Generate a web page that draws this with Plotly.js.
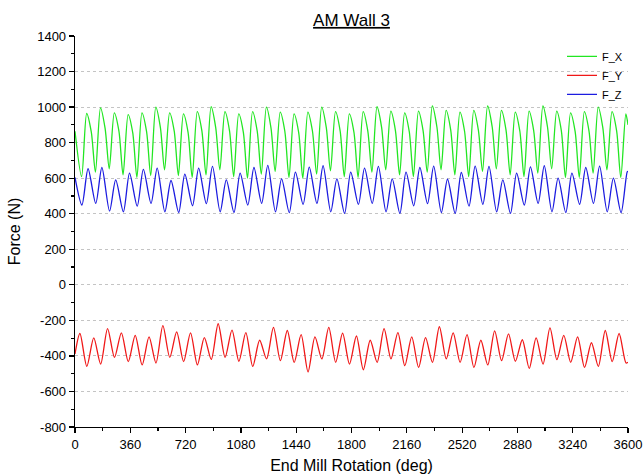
<!DOCTYPE html>
<html>
<head>
<meta charset="utf-8">
<script src="https://cdn.plot.ly/plotly-3.0.1.min.js"></script>
<style>
html,body{margin:0;padding:0;background:#fff;}
#chart{width:644px;height:476px;}
</style>
</head>
<body>
<div id="chart"></div>
<script>
// ---- Data (one value per 90-deg tooth pass, k = 0..39) ----
const toothPeriodDeg = 90;

// F_X (green)
const fxStart = 864, fxEnd = 900;
const fxTroughs = [609, 634, 653, 619, 604, 615, 647, 615, 604, 619,
                   647, 609, 600, 623, 638, 604, 600, 623, 641, 609,
                   604, 634, 647, 619, 609, 634, 647, 619, 609, 638,
                   653, 619, 609, 628, 653, 604, 604, 628, 647, 604];
const fxPeaks   = [964, 996, 968, 958, 968, 1000, 968, 962, 974, 1002,
                   974, 962, 974, 1000, 972, 962, 972, 1000, 974, 962,
                   974, 1002, 977, 968, 977, 1006, 981, 972, 981, 1006,
                   981, 972, 977, 1006, 977, 968, 974, 1000, 974, 962];
const fxShoulders = [860, 880, 865, 855, 862, 885, 865, 858, 866, 885,
                     866, 858, 866, 882, 864, 858, 864, 884, 866, 858,
                     866, 886, 868, 862, 868, 888, 870, 864, 870, 888,
                     870, 864, 868, 888, 868, 862, 866, 884, 866, 858];

// F_Y (red)
const fyStart = -389, fyEnd = -436;
const fyPeaks   = [-274, -299, -246, -270, -284, -293, -230, -265, -270, -297,
                   -219, -255, -269, -312, -240, -257, -280, -293, -240, -272,
                   -288, -312, -246, -269, -293, -297, -236, -270, -280, -312,
                   -259, -276, -309, -299, -242, -284, -293, -326, -257, -274];
const fyTroughs = [-459, -446, -408, -432, -451, -440, -408, -432, -451, -420,
                   -408, -430, -459, -417, -427, -436, -490, -417, -436, -446,
                   -478, -436, -417, -455, -465, -436, -417, -436, -465, -451,
                   -427, -430, -470, -446, -421, -436, -465, -459, -432, -440];

// F_Z (blue)
const fzStart = 604, fzEnd = 638;
const fzTroughs = [449, 458, 415, 411, 443, 458, 411, 407, 445, 457,
                   411, 407, 449, 458, 411, 406, 453, 458, 411, 402,
                   453, 458, 411, 402, 445, 457, 407, 402, 443, 453,
                   411, 402, 449, 458, 411, 407, 453, 458, 411, 406];
const fzPeaks   = [653, 660, 590, 628, 649, 657, 587, 623, 657, 666,
                   590, 628, 660, 672, 596, 634, 662, 670, 596, 634,
                   657, 666, 596, 634, 660, 668, 594, 632, 668, 666,
                   590, 628, 664, 670, 600, 628, 660, 668, 600, 636];

const xTicks = [0, 360, 720, 1080, 1440, 1800, 2160, 2520, 2880, 3240, 3600];
const yTicks = [-800, -600, -400, -200, 0, 200, 400, 600, 800, 1000, 1200, 1400];
const xMax = 3600;
const yMin = -800, yMax = 1400;

// phase (deg within a tooth pass) at which each feature was read
const phase = {fxTrough: 43, fxPeak: 76, fxShoulder: 106,
               fyPeak: 32, fyTrough: 77,
               fzTrough: 45, fzPeak: 85};

function build(start, end, parts) {
  const xs = [0], ys = [start];
  const n = parts[0].vals.length;
  for (let k = 0; k < n; k++) {
    for (const p of parts) {
      const x = k * toothPeriodDeg + p.ph;
      if (x < xMax) { xs.push(x); ys.push(p.vals[k]); }
    }
  }
  xs.push(xMax); ys.push(end);
  return {x: xs, y: ys};
}

const fx = build(fxStart, fxEnd, [
  {ph: phase.fxTrough, vals: fxTroughs},
  {ph: phase.fxPeak, vals: fxPeaks},
  {ph: phase.fxShoulder, vals: fxShoulders}]);
const fy = build(fyStart, fyEnd, [
  {ph: phase.fyPeak, vals: fyPeaks},
  {ph: phase.fyTrough, vals: fyTroughs}]);
const fz = build(fzStart, fzEnd, [
  {ph: phase.fzTrough, vals: fzTroughs},
  {ph: phase.fzPeak, vals: fzPeaks}]);

const lineW = 1.3;
const traces = [
  {x: fx.x, y: fx.y, name: 'F_X', mode: 'lines', line: {color: '#22e622', width: lineW, shape: 'spline', smoothing: 0.8}},
  {x: fy.x, y: fy.y, name: 'F_Y', mode: 'lines', line: {color: '#f01818', width: lineW, shape: 'spline', smoothing: 0.8}},
  {x: fz.x, y: fz.y, name: 'F_Z', mode: 'lines', line: {color: '#1c1ce0', width: lineW, shape: 'spline', smoothing: 0.8}}
];

const font = 'Arial, "Liberation Sans", sans-serif';
const layout = {
  width: 644, height: 476,
  margin: {l: 75, r: 16, t: 36, b: 49},
  paper_bgcolor: '#fff', plot_bgcolor: '#fff',
  font: {family: font, color: '#000'},
  title: {text: '<u>AM Wall 3</u>', font: {size: 17, family: font, color: '#000'},
          x: 0.5, xref: 'paper', xanchor: 'center', y: 0.958, yref: 'container', yanchor: 'middle'},
  showlegend: true,
  legend: {x: 1, xanchor: 'right', y: 0.985, yanchor: 'top', bgcolor: 'rgba(0,0,0,0)',
           font: {size: 11, family: font, color: '#000'}, tracegroupgap: 0},
  // hide the grid line that would sit on the top edge (the reference has none there)
  shapes: [{type: 'line', xref: 'paper', x0: 0, x1: 1, yref: 'y', y0: yMax, y1: yMax,
            layer: 'below', line: {color: '#ffffff', width: 3}}],
  xaxis: {
    range: [0, xMax], tickvals: xTicks, ticktext: xTicks.map(String),
    showgrid: false, zeroline: false,
    showline: true, linecolor: '#000', linewidth: 1.3,
    ticks: 'outside', ticklen: 5, tickwidth: 1.2, tickcolor: '#000',
    tickfont: {size: 13, family: font, color: '#000'},
    minor: {dtick: 180, tick0: 0, ticks: 'outside', ticklen: 3, tickwidth: 1.2, tickcolor: '#000', showgrid: false},
    title: {text: 'End Mill Rotation (deg)', font: {size: 16, family: font, color: '#000'}, standoff: 9}
  },
  yaxis: {
    range: [yMin, yMax], tickvals: yTicks, ticktext: yTicks.map(String),
    showgrid: true, gridcolor: '#c4c4c4', griddash: 'dot', gridwidth: 1,
    zeroline: false,
    showline: true, linecolor: '#000', linewidth: 1.3,
    ticks: 'outside', ticklen: 5, tickwidth: 1.2, tickcolor: '#000',
    tickfont: {size: 13, family: font, color: '#000'},
    minor: {dtick: 100, tick0: 0, ticks: 'outside', ticklen: 3, tickwidth: 1.2, tickcolor: '#000', showgrid: false},
    title: {text: 'Force (N)', font: {size: 16, family: font, color: '#000'}, standoff: 12}
  }
};

Plotly.newPlot('chart', traces, layout, {displayModeBar: false, staticPlot: true});
</script>
</body>
</html>
